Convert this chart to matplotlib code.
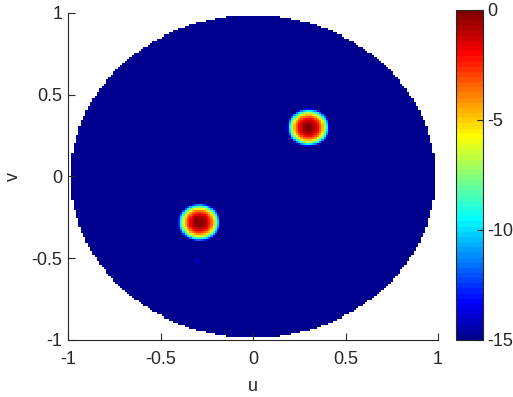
#!/usr/bin/env python3

import numpy as np
import matplotlib.pyplot as plt
from matplotlib.colors import ListedColormap


##### data #####
# main lobes (u, v centre, peak level in dB, null radius in u-v units)
LOBE_U = [0.30, -0.29, -0.30]
LOBE_V = [0.30, -0.28, -0.52]
LOBE_DB = [0.0, 0.0, -14.0]
LOBE_R0 = [0.138, 0.138, 0.07]

CLIM = [-15, 0]
XTICKS = [-1, -0.5, 0, 0.5, 1]
YTICKS = [-1, -0.5, 0, 0.5, 1]
CTICKS = [-15, -10, -5, 0]

NGRID = 161
R_VISIBLE = 0.985


##### helper functions #####
def matlab_jet(n=64):
    # rebuild MATLAB's jet(n) table
    m = int(np.ceil(n / 4))
    u = np.concatenate([np.arange(1, m + 1) / m, np.ones(m - 1), np.arange(m, 0, -1) / m])
    g = int(np.ceil(m / 2)) - (1 if n % 4 == 1 else 0) + np.arange(1, len(u) + 1)
    r = g + m
    b = g - m
    J = np.zeros((n, 3))
    J[r[r <= n] - 1, 0] = u[r <= n]
    J[g[g <= n] - 1, 1] = u[g <= n]
    J[b[b >= 1] - 1, 2] = u[b >= 1]
    return ListedColormap(J)


def beam_pattern(uu, vv):
    z = np.full(uu.shape, -40.0)
    for u0, v0, p0, r0 in zip(LOBE_U, LOBE_V, LOBE_DB, LOBE_R0):
        r = np.hypot(uu - u0, vv - v0) / r0
        amp = np.abs(np.sinc(np.minimum(r, 0.999)))
        lobe = np.where(r < 1.0, p0 + 20 * np.log10(amp), -40.0)
        z = np.maximum(z, lobe)
    z = np.clip(z, CLIM[0], CLIM[1])
    z[uu ** 2 + vv ** 2 > R_VISIBLE ** 2] = np.nan
    return z


##### plot #####
u = np.linspace(-1, 1, NGRID)
v = np.linspace(-1, 1, NGRID)
uu, vv = np.meshgrid(u, v)
z = beam_pattern(uu, vv)

plt.rcParams["font.family"] = ["Liberation Sans", "DejaVu Sans"]
plt.rcParams["font.size"] = 13

fig = plt.figure(figsize=(5.13, 3.97), dpi=100)
ax = fig.add_axes([68 / 513, 57 / 397, 370 / 513, 327 / 397])
cax = fig.add_axes([456 / 513, 57 / 397, 27 / 513, 330 / 397])

mesh = ax.pcolormesh(u, v, z, cmap=matlab_jet(64), vmin=CLIM[0], vmax=CLIM[1],
                     shading="nearest", rasterized=True)

ax.set_xlim(-1, 1)
ax.set_ylim(-1, 1)
ax.set_xticks(XTICKS)
ax.set_yticks(YTICKS)
ax.set_xticklabels(["-1", "-0.5", "0", "0.5", "1"])
ax.set_yticklabels(["-1", "-0.5", "0", "0.5", "1"])
ax.set_xlabel("u", color="0.15", labelpad=7)
ax.set_ylabel("v", color="0.15", labelpad=7)
for side in ["top", "right"]:
    ax.spines[side].set_visible(False)
for side in ["left", "bottom"]:
    ax.spines[side].set_color("0.15")
ax.tick_params(direction="in", length=5, colors="0.15", labelcolor="0.15")
ax.tick_params(axis="x", pad=8)
ax.tick_params(axis="y", pad=4)

cb = fig.colorbar(mesh, cax=cax, ticks=CTICKS)
cb.ax.set_yticklabels(["-15", "-10", "-5", "0"])
cb.outline.set_edgecolor("0.15")
cb.ax.tick_params(direction="in", length=4, pad=3, colors="0.15", labelcolor="0.15")

fig.savefig("out.png", dpi=100)
plt.close(fig)
